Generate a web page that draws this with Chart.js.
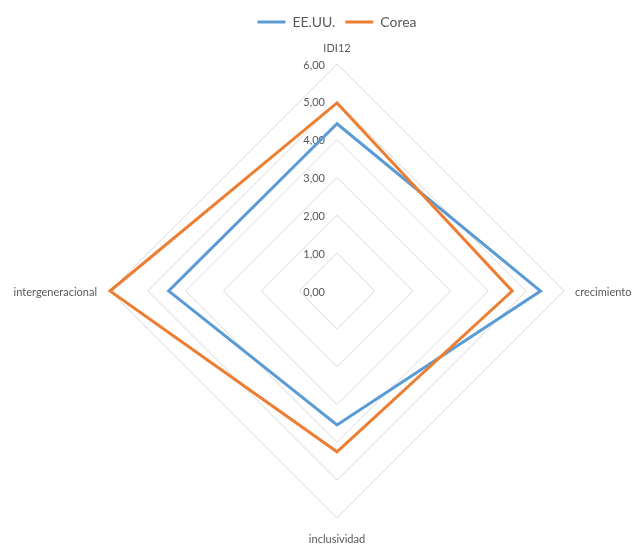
<!DOCTYPE html>
<html>
<head>
<meta charset="utf-8">
<script src="https://cdn.jsdelivr.net/npm/chart.js@4.4.1/dist/chart.umd.min.js"></script>
<style>
  html, body { margin: 0; padding: 0; background: #fff; }
  #wrap { width: 635px; height: 545px; }
</style>
</head>
<body>
<div id="wrap"><canvas id="chart"></canvas></div>
<script>
const categories = ['IDI12', 'crecimiento', 'inclusividad', 'intergeneracional'];
const seriesNames = ['EE.UU.', 'Corea'];
const usaValues = [4.42, 5.38, 3.54, 4.45];
const koreaValues = [4.97, 4.63, 4.25, 6.00];
const tickValues = [0, 1, 2, 3, 4, 5, 6];

const FONT = 'Lato, "Liberation Sans", sans-serif';
const TEXT = '#595959';
// distance from the outer ring to each category label (top, right, bottom, left)
const labelGap = [17, 11, 20, 13];

// Excel-style labels: values sit left of the vertical axis, categories
// are placed outside the outer ring without shrinking the plot
const radarText = {
  id: 'radarText',
  beforeDatasetsDraw(chart) {
    const r = chart.scales.r;
    const ctx = chart.ctx;
    ctx.save();
    ctx.font = '11px ' + FONT;
    ctx.fillStyle = TEXT;
    ctx.textBaseline = 'middle';

    ctx.textAlign = 'right';
    tickValues.forEach(v => {
      const p = r.getPointPositionForValue(0, v);
      ctx.fillText(v.toFixed(2).replace('.', ','), p.x - 12, p.y + 1);
    });

    categories.forEach((name, i) => {
      const p = r.getPointPosition(i, r.drawingArea + labelGap[i]);
      const dx = p.x - r.xCenter;
      ctx.textAlign = Math.abs(dx) < 1 ? 'center' : (dx > 0 ? 'left' : 'right');
      ctx.fillText(name, p.x, p.y + 1);
    });
    ctx.restore();
  }
};

new Chart(document.getElementById('chart'), {
  type: 'radar',
  data: {
    labels: categories,
    datasets: [
      {
        label: seriesNames[0],
        data: usaValues,
        borderColor: '#5B9BD5',
        backgroundColor: '#5B9BD5',
        borderWidth: 3,
        borderJoinStyle: 'miter',
        pointRadius: 0,
        fill: false,
        clip: false,
        order: 1
      },
      {
        label: seriesNames[1],
        data: koreaValues,
        borderColor: '#ED7D31',
        backgroundColor: '#ED7D31',
        borderWidth: 3,
        borderJoinStyle: 'miter',
        pointRadius: 0,
        fill: false,
        clip: false,
        order: 0
      }
    ]
  },
  options: {
    responsive: true,
    maintainAspectRatio: false,
    animation: false,
    layout: {
      padding: { left: 110, right: 71, top: 5, bottom: 2 }
    },
    plugins: {
      legend: {
        position: 'top',
        labels: {
          usePointStyle: true,
          pointStyle: 'line',
          pointStyleWidth: 28,
          color: TEXT,
          padding: 10,
          font: { family: FONT, size: 14 },
          sort: (a, b) => a.datasetIndex - b.datasetIndex
        }
      },
      tooltip: { enabled: false }
    },
    scales: {
      r: {
        min: 0,
        max: 6,
        ticks: { stepSize: 1, display: false },
        grid: { color: '#D9D9D9', lineWidth: 1 },
        angleLines: { display: false },
        pointLabels: { display: false }
      }
    }
  },
  plugins: [radarText]
});
</script>
</body>
</html>
